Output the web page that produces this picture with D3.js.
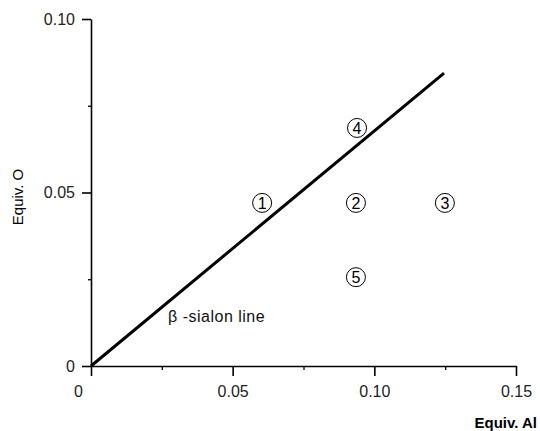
<!DOCTYPE html>
<html>
<head>
<meta charset="utf-8">
<script src="https://cdn.jsdelivr.net/npm/d3@7"></script>
<style>
  body { margin: 0; background: #fff; }
  text { font-family: "Liberation Sans", Arial, sans-serif; }
</style>
</head>
<body>
<div id="chart"></div>
<script>
// compositions (equiv. Al, equiv. O)
var pointIds = ['1', '2', '3', '4', '5'];
var equivAl = [0.0604, 0.0935, 0.1249, 0.0939, 0.0935];
var equivO = [0.047, 0.047, 0.047, 0.0686, 0.0256];

// beta-sialon line end points
var lineAl = [0, 0.1246];
var lineO = [0, 0.0844];

var xMajor = [0, 0.05, 0.10, 0.15];
var xMinor = [0.025, 0.075, 0.125];
var yMajor = [0, 0.05, 0.10];
var yMinor = [0.025, 0.075];
var xLabels = ['0', '0.05', '0.10', '0.15'];
var yLabels = ['0', '0.05', '0.10'];

var width = 540;
var height = 431;

var svg = d3.select('#chart')
    .append('svg')
    .attr('width', width)
    .attr('height', height);

var x = d3.scaleLinear().domain([0, 0.15]).range([91, 516]);
var y = d3.scaleLinear().domain([0, 0.10]).range([366, 19]);

// minor ticks first
svg.append('g')
    .attr('transform', 'translate(0,366)')
    .call(d3.axisBottom(x).tickValues(xMinor).tickSize(4).tickFormat(''))
    .call(g => g.select('.domain').remove())
    .selectAll('line').attr('stroke-width', 1.3);

svg.append('g')
    .attr('transform', 'translate(91,0)')
    .call(d3.axisLeft(y).tickValues(yMinor).tickSize(3).tickFormat(''))
    .call(g => g.select('.domain').remove())
    .selectAll('line').attr('stroke-width', 1.3);

var xAxis = svg.append('g')
    .attr('transform', 'translate(0,366)')
    .call(d3.axisBottom(x).tickValues(xMajor).tickSize(10).tickSizeOuter(0)
        .tickPadding(10)
        .tickFormat((d, i) => xLabels[i]));

xAxis.select('.domain').attr('stroke-width', 1.6);
xAxis.selectAll('line').attr('stroke-width', 1.6);
xAxis.selectAll('text')
    .attr('font-size', 16)
    .attr('fill', '#222')
    .attr('font-family', '"Liberation Sans", Arial, sans-serif')
    .attr('dx', (d, i) => i == 0 ? -13 : 0);

var yAxis = svg.append('g')
    .attr('transform', 'translate(91,0)')
    .call(d3.axisLeft(y).tickValues(yMajor).tickSize(9).tickSizeOuter(0)
        .tickPadding(7)
        .tickFormat((d, i) => yLabels[i]));

yAxis.select('.domain').attr('stroke-width', 1.6);
yAxis.selectAll('line').attr('stroke-width', 1.6);
yAxis.selectAll('text')
    .attr('font-size', 16)
    .attr('fill', '#222')
    .attr('font-family', '"Liberation Sans", Arial, sans-serif');

// beta-sialon line
var lineData = lineAl.map((d, i) => [d, lineO[i]]);
svg.append('path')
    .datum(lineData)
    .attr('d', d3.line().x(d => x(d[0])).y(d => y(d[1])))
    .attr('fill', 'none')
    .attr('stroke', '#000')
    .attr('stroke-width', 3);

svg.append('text')
    .attr('x', 168)
    .attr('y', 322)
    .attr('font-size', 16)
    .attr('letter-spacing', 0.5)
    .attr('fill', '#111')
    .text('β -sialon line');

// circled composition numbers
var pts = svg.append('g')
    .selectAll('g')
    .data(pointIds)
    .enter()
    .append('g')
    .attr('transform', (d, i) => 'translate(' + x(equivAl[i]) + ',' + y(equivO[i]) + ')');

pts.append('circle')
    .attr('r', 9.5)
    .attr('fill', '#fff')
    .attr('stroke', '#000')
    .attr('stroke-width', 1);

pts.append('text')
    .attr('text-anchor', 'middle')
    .attr('dy', '0.36em')
    .attr('font-size', 16)
    .text(d => d);

// axis titles
svg.append('text')
    .attr('x', 537)
    .attr('y', 428)
    .attr('text-anchor', 'end')
    .attr('font-size', 15)
    .attr('font-weight', 'bold')
    .text('Equiv. Al');

svg.append('text')
    .attr('transform', 'translate(19,197) rotate(-90)')
    .attr('text-anchor', 'middle')
    .attr('dominant-baseline', 'middle')
    .attr('font-size', 15)
    .text('Equiv. O');
</script>
</body>
</html>
